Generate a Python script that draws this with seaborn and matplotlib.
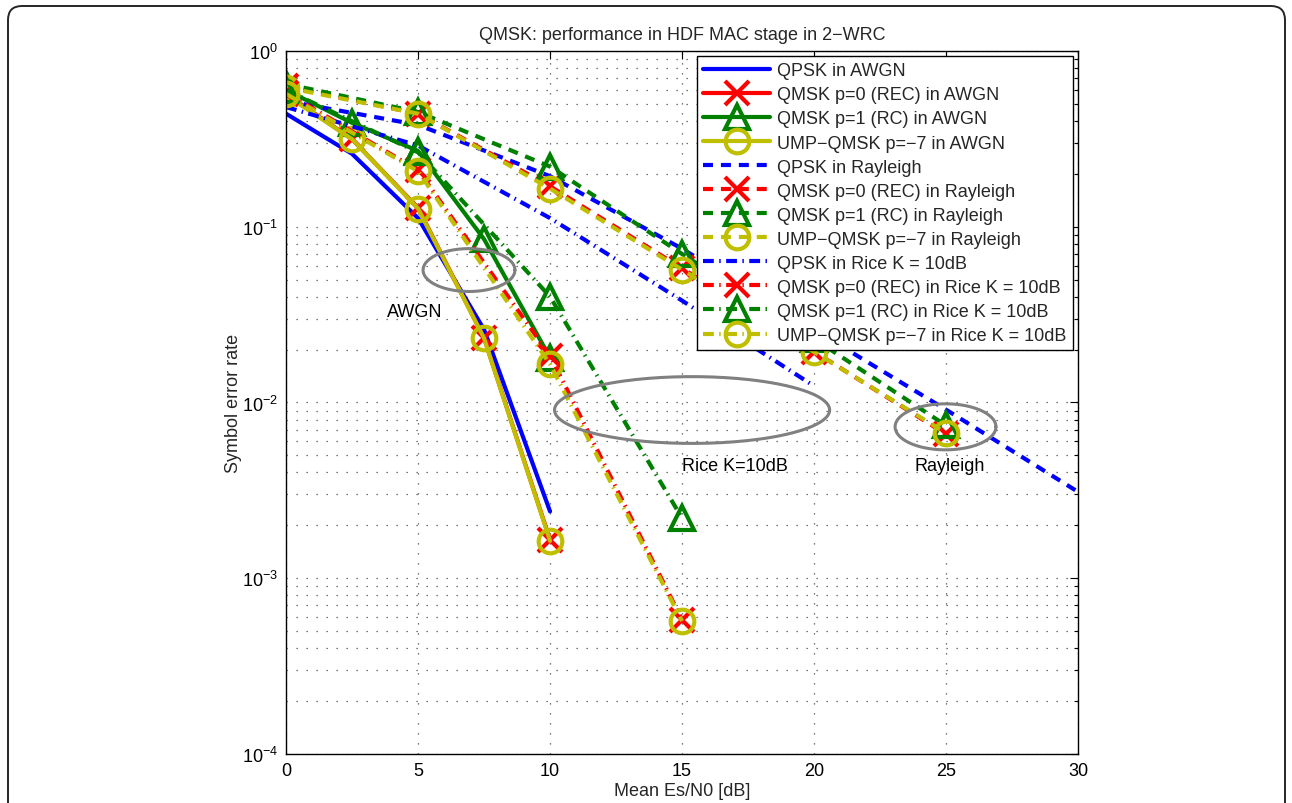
import numpy as np
import pandas as pd
import matplotlib
matplotlib.use("Agg")
import matplotlib.pyplot as plt
import matplotlib.transforms as mtransforms
from matplotlib.patches import FancyBboxPatch
from matplotlib.ticker import LogLocator, NullFormatter, MultipleLocator
import seaborn as sns

# Mean Es/N0 grids [dB]
snr_awgn = [0, 2.5, 5, 7.5, 10]
snr_rayleigh = [0, 5, 10, 15, 20, 25]
snr_rayleigh_qpsk = [0, 5, 10, 15, 20, 25, 30]
snr_rice = [0, 5, 10, 15]
snr_rice_qpsk = [0, 5, 10, 15, 20]

# Symbol error rates, AWGN
ser_qpsk_awgn = [0.44, 0.26, 0.112, 0.026, 0.0024]
ser_rec_awgn = [0.57, 0.315, 0.128, 0.0233, 0.00165]
ser_rc_awgn = [0.60, 0.39, 0.27, 0.085, 0.018]
ser_ump_awgn = [0.56, 0.315, 0.127, 0.0232, 0.00163]

# Symbol error rates, Rayleigh fading
ser_qpsk_rayleigh = [0.52, 0.38, 0.194, 0.075, 0.026, 0.0091, 0.0031]
ser_rec_rayleigh = [0.63, 0.44, 0.17, 0.058, 0.0195, 0.0066]
ser_rc_rayleigh = [0.65, 0.45, 0.22, 0.07, 0.023, 0.0074]
ser_ump_rayleigh = [0.62, 0.44, 0.165, 0.057, 0.0194, 0.0067]

# Symbol error rates, Rice fading K = 10 dB
ser_qpsk_rice = [0.48, 0.29, 0.112, 0.038, 0.0124]
ser_rec_rice = [0.58, 0.21, 0.0185, 0.00058]
ser_rc_rice = [0.60, 0.265, 0.040, 0.0022]
ser_ump_rice = [0.57, 0.207, 0.0165, 0.00057]

labels = [
    "QPSK in AWGN", "QMSK p=0 (REC) in AWGN", "QMSK p=1 (RC) in AWGN",
    "UMP\u2212QMSK p=\u22127 in AWGN",
    "QPSK in Rayleigh", "QMSK p=0 (REC) in Rayleigh", "QMSK p=1 (RC) in Rayleigh",
    "UMP\u2212QMSK p=\u22127 in Rayleigh",
    "QPSK in Rice K = 10dB", "QMSK p=0 (REC) in Rice K = 10dB",
    "QMSK p=1 (RC) in Rice K = 10dB", "UMP\u2212QMSK p=\u22127 in Rice K = 10dB",
]

# Region annotations: centre (dB, SER), half-width [dB], half-height [decades]
region_names = ["AWGN", "Rice K=10dB", "Rayleigh"]
region_cx = [6.93, 15.38, 24.98]
region_cy = [0.0567, 0.00906, 0.00727]
region_a = [1.74, 5.21, 1.91]
region_b = [0.122, 0.19, 0.131]
region_label_x = [4.89, 17.0, 25.15]
region_label_y = [0.033, 0.00437, 0.00437]

BLUE = (0, 0, 1)
RED = (1, 0, 0)
GREEN = (0, 0.5, 0)
YELLOW = (0.75, 0.75, 0)

SOLID = "-"
DASHED = (0, (2.4, 1.9))
DASHDOT = (0, (2.6, 1.3, 0.35, 1.3))

series = [
    (snr_awgn, ser_qpsk_awgn, BLUE, SOLID, None),
    (snr_awgn, ser_rec_awgn, RED, SOLID, "x"),
    (snr_awgn, ser_rc_awgn, GREEN, SOLID, "^"),
    (snr_awgn, ser_ump_awgn, YELLOW, SOLID, "o"),
    (snr_rayleigh_qpsk, ser_qpsk_rayleigh, BLUE, DASHED, None),
    (snr_rayleigh, ser_rec_rayleigh, RED, DASHED, "x"),
    (snr_rayleigh, ser_rc_rayleigh, GREEN, DASHED, "^"),
    (snr_rayleigh, ser_ump_rayleigh, YELLOW, DASHED, "o"),
    (snr_rice_qpsk, ser_qpsk_rice, BLUE, DASHDOT, None),
    (snr_rice, ser_rec_rice, RED, DASHDOT, "x"),
    (snr_rice, ser_rc_rice, GREEN, DASHDOT, "^"),
    (snr_rice, ser_ump_rice, YELLOW, DASHDOT, "o"),
]

FS = 13

sns.set_theme(style="white")
plt.rcParams["font.family"] = ["Liberation Sans", "DejaVu Sans"]
plt.rcParams["mathtext.fontset"] = "custom"
plt.rcParams["mathtext.rm"] = "Liberation Sans"
plt.rcParams["mathtext.it"] = "Liberation Sans:italic"
plt.rcParams["axes.unicode_minus"] = True

fig = plt.figure(figsize=(12.92, 8.04), dpi=100)
fig.patch.set_facecolor("white")
ax = fig.add_axes([0.2214, 0.061, 0.6130, 0.8743])
ax.set_facecolor("white")
ax.set_yscale("log")

for (xs, ys, color, ls, mk), lab in zip(series, labels):
    df = pd.DataFrame({"snr": xs, "ser": ys})
    kws = dict(color=color, linestyle=ls, linewidth=3.0, label=lab)
    if mk is not None:
        kws.update(marker=mk, markersize=17, markeredgewidth=3.0,
                   markeredgecolor=color, markerfacecolor="none")
    sns.lineplot(data=df, x="snr", y="ser", ax=ax, sort=False,
                 estimator=None, legend=False, **kws)

# Region ellipses drawn in (dB, log SER) space
t = np.linspace(0, 2 * np.pi, 200)
for cx, cy, a, b in zip(region_cx, region_cy, region_a, region_b):
    ex = cx + a * np.cos(t)
    ey = 10 ** (np.log10(cy) + b * np.sin(t))
    ax.plot(ex, ey, color="0.5", linewidth=2.2, zorder=5)
for name, lx, ly in zip(region_names, region_label_x, region_label_y):
    ax.text(lx, ly, name, ha="center", va="center", fontsize=FS, color="black")

ax.set_xlim(0, 30)
ax.set_ylim(1e-4, 1)
ax.xaxis.set_major_locator(MultipleLocator(5))
ax.yaxis.set_major_locator(LogLocator(base=10, numticks=10))
ax.yaxis.set_minor_locator(LogLocator(base=10, subs=np.arange(2, 10), numticks=50))
ax.yaxis.set_minor_formatter(NullFormatter())

grid_style = dict(color="0.3", linestyle=(0, (1, 7)), linewidth=0.9)
ax.grid(True, which="major", axis="both", **grid_style)
ax.grid(True, which="minor", axis="y", **grid_style)
ax.set_axisbelow(True)

ax.tick_params(which="both", direction="in", top=True, right=True, colors="black",
               labelsize=FS)
ax.tick_params(which="major", length=6, width=0.8, pad=6)
ax.tick_params(which="minor", length=3, width=0.8)
for sp in ax.spines.values():
    sp.set_color("black")
    sp.set_linewidth(1.0)

ax.set_title("QMSK: performance in HDF MAC stage in 2\u2212WRC", fontsize=FS, pad=9)
ax.set_xlabel("Mean Es/N0 [dB]", fontsize=FS, labelpad=2)
ax.set_ylabel("Symbol error rate", fontsize=FS, labelpad=0)

leg = ax.legend(loc="upper right", fontsize=FS, frameon=True, fancybox=False,
                edgecolor="black", framealpha=1, borderaxespad=0.3,
                handlelength=3.7, handletextpad=0.4, labelspacing=0.39,
                borderpad=0.33, numpoints=1)
leg.get_frame().set_linewidth(1.0)

# Rounded page frame
frame = FancyBboxPatch((8, -30), 1277, 804 - 7 + 30,
                       boxstyle="round,pad=0,rounding_size=14",
                       transform=mtransforms.IdentityTransform(),
                       facecolor="none", edgecolor="0.15", linewidth=1.4)
fig.add_artist(frame)

fig.savefig("out.png", dpi=100, facecolor="white")
